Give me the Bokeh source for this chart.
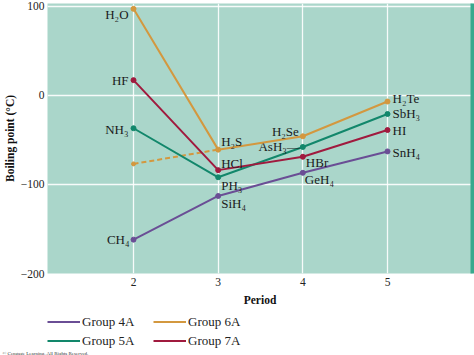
from bokeh.plotting import figure
from bokeh.layouts import column
from bokeh.models import (ColumnDataSource, Range1d, FixedTicker, LinearAxis,
                          Legend, LegendItem, Title)
from bokeh.core.properties import value
from bokeh.embed import file_html
from bokeh.resources import INLINE

# ---------------- data ----------------
periods = [2, 3, 4, 5]
group4a = [-162, -113, -87, -63]
group5a = [-37, -92, -58, -21]
group6a = [97, -61, -46, -7]
group7a = [17, -84, -69, -39]
group6a_trend_start = -77          # dashed extrapolation for H2O at period 2

names4a = ["CH₄", "SiH₄", "GeH₄", "SnH₄"]
names5a = ["NH₃", "PH₃", "AsH₃—", "SbH₃"]
names6a = ["H₂O", "H₂S", "H₂Se", "H₂Te"]
names7a = ["HF", "HCl", "HBr", "HI"]

series_names = ["Group 4A", "Group 5A", "Group 6A", "Group 7A"]
x_ticks = [2, 3, 4, 5]
y_ticks = [-200, -100, 0, 100]

# ---------------- styles ----------------
colors = ["#6a4e95", "#12876b", "#d3983f", "#a01a3e"]
SERIF = "Liberation Serif"
# label offsets (px) and alignment per compound
off4a = [(-4, 0, "right"), (3, 8, "left"), (2, 7, "left"), (5, 1, "left")]
off5a = [(-5, 1, "right"), (3, 8, "left"), (-3, 0, "right"), (5, 0, "left")]
off6a = [(-5, 6, "right"), (3, -8, "left"), (-4, -5, "right"), (5, -3, "left")]
off7a = [(-5, 0, "right"), (3, -7, "left"), (3, 6, "left"), (5, 0, "left")]

series = [group4a, group5a, group6a, group7a]
names = [names4a, names5a, names6a, names7a]
offs = [off4a, off5a, off6a, off7a]

# ---------------- main chart ----------------
p = figure(width=474, height=311, output_backend="svg", toolbar_location=None,
           x_range=Range1d(0.984, 6.004), y_range=Range1d(-200, 103),
           min_border_left=47, min_border_right=2, min_border_top=3,
           min_border_bottom=38)
p.background_fill_color = "#aad6ca"
p.border_fill_color = "white"
p.outline_line_color = None

p.xgrid.ticker = FixedTicker(ticks=x_ticks)
p.ygrid.ticker = FixedTicker(ticks=y_ticks)
for g in (p.xgrid, p.ygrid):
    g.grid_line_color = "white"
    g.grid_line_width = 1.3
    g.grid_line_alpha = 0.9

p.xaxis.ticker = FixedTicker(ticks=x_ticks)
p.yaxis.ticker = FixedTicker(ticks=y_ticks)
p.yaxis.major_label_overrides = {t: (("−" + str(-t)) if t < 0 else str(t)) for t in y_ticks}
for ax in (p.xaxis, p.yaxis):
    ax.axis_line_color = None
    ax.major_tick_line_color = None
    ax.minor_tick_line_color = None
    ax.major_tick_out = 0
    ax.major_tick_in = 0
    ax.minor_tick_out = 0
    ax.minor_tick_in = 0
    ax.major_label_text_font = SERIF
    ax.major_label_text_font_size = "11.5px"
    ax.major_label_text_color = "#222222"
    ax.axis_label_text_font = SERIF
    ax.axis_label_text_font_style = "bold"
    ax.axis_label_text_font_size = "11.5px"
    ax.axis_label_text_color = "#111111"
p.xaxis.axis_label = "Period"
p.yaxis.axis_label = "Boiling point (°C)"
p.xaxis.major_label_standoff = 4
p.xaxis.axis_label_standoff = 5
p.yaxis.major_label_standoff = 3
p.yaxis.axis_label_standoff = 2

ra = LinearAxis(ticker=FixedTicker(ticks=[]), major_label_text_font_size="0px",
                axis_line_color="#38a98e", axis_line_width=4,
                major_tick_line_color=None, minor_tick_line_color=None,
                major_tick_out=0, major_tick_in=0, major_label_standoff=0)
p.add_layout(ra, "right")

p.line(periods[:2], [group6a_trend_start, group6a[1]], color=colors[2],
       line_width=2, line_dash="5 3")
p.scatter(periods[:1], [group6a_trend_start], color=colors[2], size=4)

for vals, nm, of, col in zip(series, names, offs, colors):
    p.line(periods, vals, color=col, line_width=2)
    p.scatter(periods, vals, color=col, size=5)
    src = ColumnDataSource(dict(x=periods, y=vals, t=nm,
                                xo=[o[0] for o in of], yo=[o[1] for o in of],
                                al=[o[2] for o in of]))
    p.text(x="x", y="y", text="t", x_offset="xo", y_offset="yo",
           text_align="al", text_baseline="middle", source=src,
           text_font=value(SERIF), text_font_size="13px", text_color="#1a1a1a")

# ---------------- legend strip ----------------
lg = figure(width=474, height=44, output_backend="svg", toolbar_location=None,
            x_range=Range1d(100, 101), y_range=Range1d(1000, 1001),
            x_axis_type=None, y_axis_type=None,
            min_border_left=47, min_border_right=0, min_border_top=2, min_border_bottom=0)
lg.background_fill_color = "white"
lg.border_fill_color = "white"
lg.outline_line_color = None
lg.grid.visible = False
lg_renderers = [lg.line(periods, vals, color=col, line_width=2)
                for vals, col in zip(series, colors)]
legend = Legend(items=[LegendItem(label=n, renderers=[r]) for n, r in zip(series_names, lg_renderers)],
                ncols=2, location="top_left", glyph_width=33, glyph_height=17,
                label_standoff=2, label_width=69, label_height=17, spacing=2,
                padding=0, margin=0, background_fill_alpha=0, border_line_alpha=0,
                label_text_font=SERIF, label_text_font_size="13px",
                label_text_color="#222222")
lg.add_layout(legend)
lg.add_layout(Title(text="© Cengage Learning. All Rights Reserved.", align="left",
                    offset=-45, standoff=0, text_font=SERIF, text_font_size="5px",
                    text_font_style="normal", text_color="#333333"), "below")

layout = column(p, lg, spacing=0)
html = file_html(layout, INLINE, title="Boiling points")
html = html.replace("</head>", "<style>body{margin:0;}</style></head>", 1)
open("out.html", "w").write(html)
